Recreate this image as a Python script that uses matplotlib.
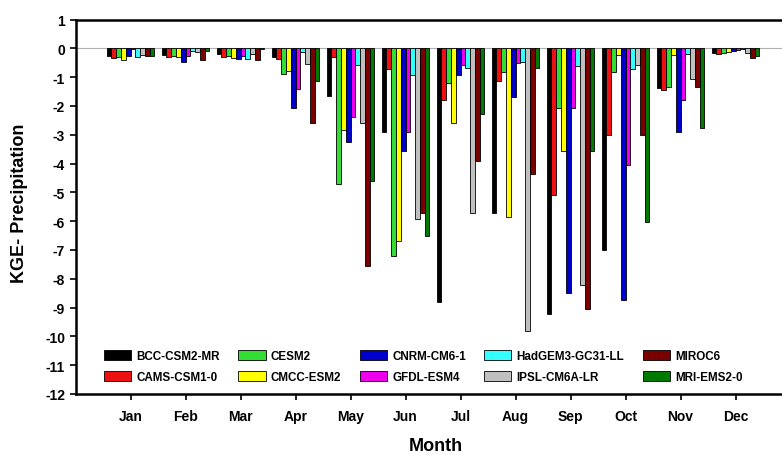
import matplotlib
matplotlib.use("Agg")
import matplotlib.pyplot as plt
import numpy as np

plt.rcParams['font.family'] = ['Liberation Sans', 'DejaVu Sans']
plt.rcParams['font.weight'] = 'bold'
plt.rcParams['axes.unicode_minus'] = False

months = ["Jan", "Feb", "Mar", "Apr", "May", "Jun", "Jul", "Aug", "Sep", "Oct", "Nov", "Dec"]
models = ["BCC-CSM2-MR", "CAMS-CSM1-0", "CESM2", "CMCC-ESM2", "CNRM-CM6-1",
          "GFDL-ESM4", "HadGEM3-GC31-LL", "IPSL-CM6A-LR", "MIROC6", "MRI-EMS2-0"]
colors = ["#000000", "#ee1111", "#33dd33", "#ffff00", "#0000cc",
          "#ee00ee", "#33ffff", "#c0c0c0", "#7a0000", "#007a00"]

# values per model, Jan..Dec
bcc    = [-0.25, -0.22, -0.19, -0.31, -1.64, -2.89, -8.81, -5.72, -9.22, -7.00, -1.37, -0.17]
cams   = [-0.34, -0.31, -0.31, -0.36, -0.31, -0.73, -1.79, -1.15, -5.09, -3.00, -1.46, -0.19]
cesm2  = [-0.31, -0.25, -0.25, -0.89, -4.70, -7.22, -1.21, -0.83, -2.06, -0.83, -1.33, -0.17]
cmcc   = [-0.42, -0.31, -0.34, -0.79, -2.85, -6.70, -2.60, -5.86, -3.56, -0.23, -0.23, -0.13]
cnrm   = [-0.25, -0.48, -0.36, -2.07, -3.26, -3.58, -0.91, -1.70, -8.50, -8.72, -2.91, -0.11]
gfdl   = [-0.03, -0.25, -0.27, -1.41, -2.39, -2.91, -0.57, -0.52, -2.08, -4.05, -1.78, -0.05]
hadgem = [-0.31, -0.08, -0.36, -0.13, -0.57, -0.91, -0.69, -0.46, -0.63, -0.71, -0.19, -0.04]
ipsl   = [-0.22, -0.13, -0.19, -0.56, -2.60, -5.92, -5.71, -9.80, -8.23, -0.57, -1.06, -0.17]
miroc6 = [-0.27, -0.39, -0.39, -2.59, -7.54, -5.72, -3.90, -4.38, -9.05, -3.00, -1.33, -0.33]
mri    = [-0.27, -0.08, -0.04, -1.12, -4.59, -6.50, -2.29, -0.69, -3.58, -6.04, -2.77, -0.28]
series = [bcc, cams, cesm2, cmcc, cnrm, gfdl, hadgem, ipsl, miroc6, mri]

W, H = 782, 456
fig = plt.figure(figsize=(W / 100, H / 100), dpi=100)
left_px, right_px, top_px, bot_px = 75.5, 75.5 + 13 * 55.0, 20.5, 395.0
ax = fig.add_axes([left_px / W, 1 - bot_px / H, (right_px - left_px) / W, (bot_px - top_px) / H])

x = np.arange(1, 13)
bw = 0.087
for i, (name, vals, c) in enumerate(zip(models, series, colors)):
    ax.bar(x + (i - 4.5) * bw, vals, width=bw, color=c, edgecolor="black",
           linewidth=0.6, label=name, zorder=3)

ax.axhline(0, color="#b0b0b0", linewidth=0.8, zorder=2)
ax.set_xlim(0, 13)
ax.set_ylim(-12, 1)
ax.set_yticks(np.arange(-12, 2, 1))
ax.set_xticks(x)
ax.set_xticklabels(months)
ax.tick_params(axis="both", direction="out", length=4, width=1.2, labelsize=10)
for lab in ax.get_xticklabels() + ax.get_yticklabels():
    lab.set_fontweight("bold")
ax.tick_params(axis="x", pad=6.5)
for s in ax.spines.values():
    s.set_linewidth(1.8)

fig.text(20 / W, 1 - 203 / H, "KGE- Precipitation", rotation=90, ha="center", va="center",
         fontsize=13, fontweight="bold")
fig.text(436 / W, 1 - 447 / H, "Month", ha="center", va="center",
         fontsize=13, fontweight="bold")

leg = ax.legend(loc="upper left", bbox_to_anchor=(104 / W, 1 - 351 / H),
                bbox_transform=fig.transFigure, ncol=5, frameon=False,
                prop={"size": 8.4, "weight": "bold"}, handlelength=2.35, handleheight=0.85,
                handletextpad=0.45, columnspacing=1.55, labelspacing=0.78,
                borderpad=0, borderaxespad=0)

fig.savefig("out.png", dpi=100)
